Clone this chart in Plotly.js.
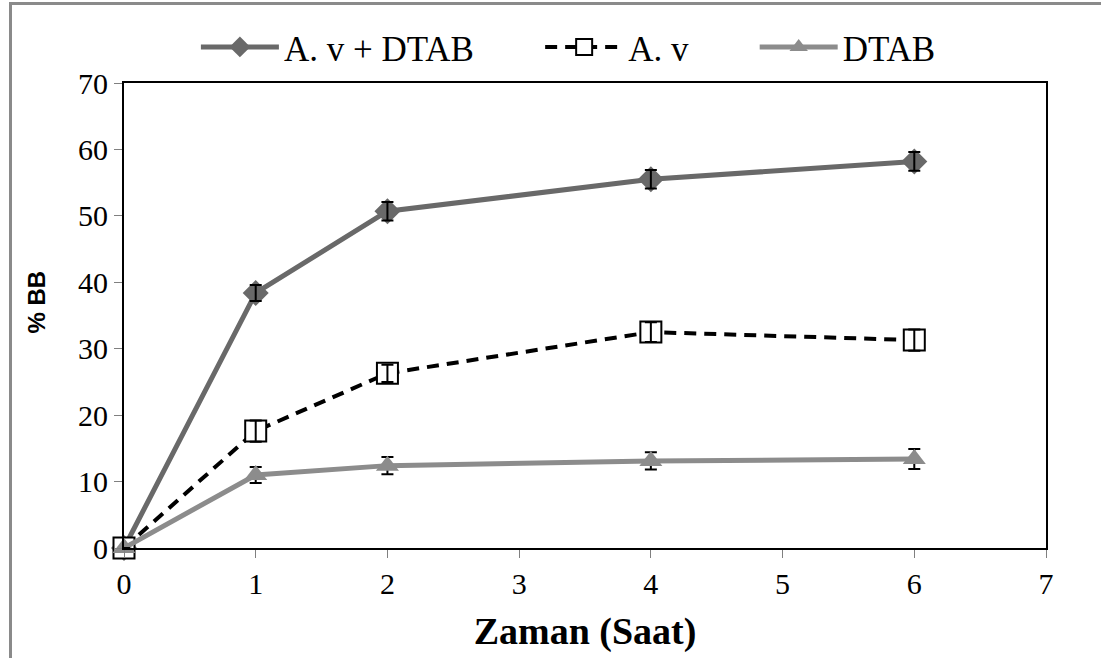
<!DOCTYPE html>
<html>
<head>
<meta charset="utf-8">
<script src="https://cdn.plot.ly/plotly-3.0.1.min.js"></script>
<style>
html, body { margin: 0; padding: 0; background: #fff; overflow: hidden; }
#wrap { position: relative; width: 1101px; height: 658px; }
#chart { width: 1101px; height: 658px; }
#frame { position: absolute; left: 9px; top: 2px; width: 1092px; height: 656px;
  border-left: 3px solid #8a8a8a; border-top: 3px solid #8a8a8a; box-sizing: border-box; pointer-events: none; }
</style>
</head>
<body>
<div id="wrap">
<div id="chart"></div>
<div id="frame"></div>
</div>
<script>
var hours = [0, 1, 2, 4, 6];
var seriesNames = ["A. v + DTAB", "A. v", "DTAB"];
var avDtab = [0, 38.4, 50.7, 55.5, 58.2];
var avDtabErr = [0, 1.2, 1.4, 1.4, 1.4];
var av = [0, 17.6, 26.3, 32.5, 31.3];
var avErr = [0, 1.6, 1.3, 1.5, 1.6];
var dtab = [0, 11.0, 12.4, 13.1, 13.4];
var dtabErr = [0, 1.2, 1.3, 1.3, 1.5];
var xTicks = [0, 1, 2, 3, 4, 5, 6, 7];
var yTicks = [0, 10, 20, 30, 40, 50, 60, 70];

var errStyle = function (arr) {
  return { type: 'data', array: arr, visible: true, color: '#000', thickness: 2, width: 6 };
};
var pad = '\u00a0\u00a0\u00a0\u00a0\u00a0\u00a0\u00a0';

var traces = [
  {
    x: hours, y: avDtab, name: seriesNames[0] + pad, type: 'scatter', mode: 'lines+markers',
    line: { color: '#696969', width: 5 },
    marker: { symbol: 'diamond', size: 20, color: '#696969' },
    cliponaxis: false
  },
  {
    x: hours, y: av, name: seriesNames[1] + pad, type: 'scatter', mode: 'lines+markers',
    line: { color: '#000', width: 4, dash: '12px,8px' },
    marker: { symbol: 'square', size: 21, color: '#fff', line: { color: '#000', width: 2 } },
    cliponaxis: false
  },
  {
    x: hours, y: dtab, name: seriesNames[2], type: 'scatter', mode: 'lines+markers',
    line: { color: '#8c8c8c', width: 5 },
    marker: { symbol: 'triangle-up', size: 20, color: '#8c8c8c' },
    error_y: errStyle(dtabErr), cliponaxis: false
  },
  {
    x: hours, y: avDtab, name: seriesNames[0], type: 'scatter', mode: 'markers', showlegend: false,
    marker: { size: 1, opacity: 0 }, error_y: errStyle(avDtabErr), cliponaxis: false
  },
  {
    x: hours, y: av, name: seriesNames[1], type: 'scatter', mode: 'markers', showlegend: false,
    marker: { size: 1, opacity: 0 }, error_y: errStyle(avErr), cliponaxis: false
  }
];

var layout = {
  width: 1101, height: 658,
  margin: { l: 124, r: 55, t: 83, b: 110 },
  paper_bgcolor: '#fff', plot_bgcolor: '#fff',
  font: { family: 'Liberation Serif, Times New Roman, serif', color: '#000' },
  showlegend: true,
  legend: {
    orientation: 'h', x: 0.482, xanchor: 'center', y: 1.077, yanchor: 'middle',
    font: { family: 'Liberation Serif, serif', size: 35, color: '#000' },
    bgcolor: 'rgba(0,0,0,0)', itemwidth: 78, tracegroupgap: 0
  },
  xaxis: {
    range: [0, 7], tickvals: xTicks, ticktext: xTicks.map(String),
    showgrid: false, zeroline: false,
    showline: true, linecolor: '#000', linewidth: 2, mirror: true,
    ticks: 'outside', ticklen: 8, tickcolor: '#808080', tickwidth: 1,
    tickfont: { family: 'Liberation Serif, serif', size: 30, color: '#000' },
    title: { text: '<b>Zaman (Saat)</b>', font: { family: 'Liberation Serif, serif', size: 38, color: '#000' }, standoff: 18 }
  },
  yaxis: {
    range: [0, 70], tickvals: yTicks, ticktext: yTicks.map(String),
    showgrid: false, zeroline: false,
    showline: true, linecolor: '#000', linewidth: 2, mirror: true,
    ticks: 'outside', ticklen: 8, tickcolor: '#808080', tickwidth: 1,
    tickfont: { family: 'Liberation Serif, serif', size: 30, color: '#000' },
    title: { text: '<b>\u00a0\u00a0\u00a0\u00a0% BB</b>', font: { family: 'Liberation Sans, Arial, sans-serif', size: 24, color: '#000' }, standoff: 26 }
  }
};

Plotly.newPlot('chart', traces, layout, { displayModeBar: false, staticPlot: true });
</script>
</body>
</html>
